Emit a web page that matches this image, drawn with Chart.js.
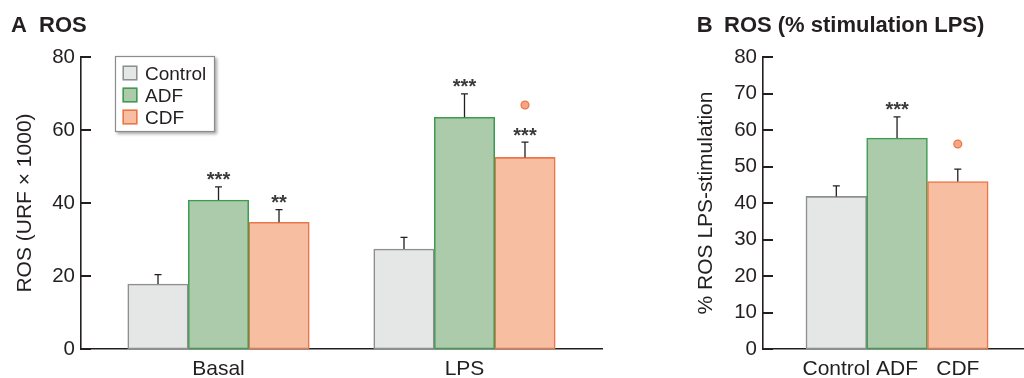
<!DOCTYPE html>
<html>
<head>
<meta charset="utf-8">
<title>ROS</title>
<script src="https://cdn.jsdelivr.net/npm/chart.js@4/dist/chart.umd.min.js"></script>
<style>
  html, body { margin: 0; padding: 0; background: #ffffff; }
  #wrap { position: relative; width: 1024px; height: 378px; overflow: hidden; }
  #boxA { position: absolute; left: 0; top: 0; width: 680px; height: 378px; }
  #boxB { position: absolute; left: 680px; top: 0; width: 344px; height: 378px; }
</style>
</head>
<body>
<div id="wrap">
  <div id="boxA"><canvas id="chartA"></canvas></div>
  <div id="boxB"><canvas id="chartB"></canvas></div>
</div>
<script>
// ---- Panel A: ROS (URF x 1000), basal vs LPS ----
const conditions = ['Basal', 'LPS'];
const groups = ['Control', 'ADF', 'CDF'];

const controlRos    = [17.8, 27.4];
const controlRosSem = [2.6, 3.2];
const adfRos        = [40.8, 63.5];
const adfRosSem     = [3.6, 6.4];
const cdfRos        = [34.7, 52.5];
const cdfRosSem     = [3.5, 4.2];

const controlStars = ['', ''];
const adfStars     = ['***', '***'];
const cdfStars     = ['**', '***'];
const cdfCircle    = [false, true];

const rosTicks = [0, 20, 40, 60, 80];

// ---- Panel B: % ROS LPS-stimulation ----
const stimValues = [41.8, 57.8, 45.9];
const stimSem    = [2.9, 5.8, 3.4];
const stimStars  = ['', '***', ''];
const stimCircle = [false, false, true];

const stimTicks = [0, 10, 20, 30, 40, 50, 60, 70, 80];

// ---- styling ----
const INK = '#231f20';
const FAMILY = "'Liberation Sans', Arial, Helvetica, sans-serif";
const FILL = { Control: '#e5e7e6', ADF: '#accbaa', CDF: '#f7bea2' };
const EDGE = { Control: '#8e8f8f', ADF: '#3f9b52', CDF: '#ec7648' };

Chart.defaults.font.family = FAMILY;
Chart.defaults.color = INK;

// error bars, significance stars and circle markers above each bar
const barExtras = {
  id: 'barExtras',
  afterDatasetsDraw(chart) {
    const ctx = chart.ctx;
    const y = chart.scales.y;
    chart.data.datasets.forEach((ds, di) => {
      const meta = chart.getDatasetMeta(di);
      meta.data.forEach((bar, i) => {
        const v = ds.data[i];
        const top = y.getPixelForValue(v + ds.sem[i]);
        ctx.save();
        ctx.strokeStyle = INK;
        ctx.lineWidth = 1.3;
        ctx.beginPath();
        ctx.moveTo(bar.x, bar.y);
        ctx.lineTo(bar.x, top);
        ctx.moveTo(bar.x - 3.5, top);
        ctx.lineTo(bar.x + 3.5, top);
        ctx.stroke();
        let mark = top;
        if (ds.stars && ds.stars[i]) {
          ctx.fillStyle = '#3a3a3a';
          ctx.font = 'bold 20px ' + FAMILY;
          ctx.textAlign = 'center';
          ctx.textBaseline = 'alphabetic';
          ctx.fillText(ds.stars[i], bar.x, top - 0.5);
          mark = top - 12;
        }
        if (ds.circle && ds.circle[i]) {
          ctx.beginPath();
          ctx.arc(bar.x, mark - 25, 3.9, 0, Math.PI * 2);
          ctx.fillStyle = '#f7a585';
          ctx.fill();
          ctx.lineWidth = 1.3;
          ctx.strokeStyle = '#ec7648';
          ctx.stroke();
        }
        ctx.restore();
      });
    });
  }
};

// short tick marks pointing into the plot from the y axis
const inwardTicks = {
  id: 'inwardTicks',
  afterDraw(chart) {
    const ctx = chart.ctx;
    const y = chart.scales.y;
    const left = chart.chartArea.left;
    ctx.save();
    ctx.strokeStyle = INK;
    ctx.lineWidth = 2;
    y.ticks.forEach(t => {
      const p = Math.round(y.getPixelForValue(t.value));
      ctx.beginPath();
      ctx.moveTo(left, p);
      ctx.lineTo(left + 10, p);
      ctx.stroke();
    });
    ctx.restore();
  }
};

// bold panel letter and heading
const panelTitle = {
  id: 'panelTitle',
  afterDraw(chart, args, opts) {
    const ctx = chart.ctx;
    ctx.save();
    ctx.fillStyle = INK;
    ctx.font = 'bold 22px ' + FAMILY;
    ctx.textAlign = 'left';
    ctx.textBaseline = 'alphabetic';
    ctx.fillText(opts.letter, opts.letterX, 32);
    ctx.fillText(opts.text, opts.textX, 32);
    ctx.restore();
  }
};

// boxed legend with drop shadow
const boxLegend = {
  id: 'boxLegend',
  afterDraw(chart, args, opts) {
    if (!opts.show) return;
    const ctx = chart.ctx;
    const x = opts.x, y = opts.y, w = opts.w, h = opts.h;
    ctx.save();
    ctx.shadowColor = 'rgba(0,0,0,0.35)';
    ctx.shadowOffsetX = 2;
    ctx.shadowOffsetY = 2;
    ctx.shadowBlur = 3;
    ctx.fillStyle = '#ffffff';
    ctx.fillRect(x, y, w, h);
    ctx.restore();
    ctx.save();
    ctx.strokeStyle = '#8c8c8c';
    ctx.lineWidth = 1.2;
    ctx.strokeRect(x + 0.5, y + 0.5, w - 1, h - 1);
    chart.data.datasets.forEach((ds, i) => {
      const cy = y + 17 + i * 22;
      ctx.fillStyle = ds.backgroundColor;
      ctx.fillRect(x + 7.5, cy - 7.5, 15, 15);
      ctx.strokeStyle = ds.borderColor;
      ctx.lineWidth = 1.5;
      ctx.strokeRect(x + 8.25, cy - 6.75, 13.5, 13.5);
      ctx.fillStyle = INK;
      ctx.font = '19px ' + FAMILY;
      ctx.textAlign = 'left';
      ctx.textBaseline = 'alphabetic';
      ctx.fillText(ds.label, x + 30, cy + 6.6);
    });
    ctx.restore();
  }
};

function yAxis(ticks, width, title, titlePad) {
  return {
    type: 'linear',
    min: 0,
    max: ticks[ticks.length - 1],
    afterBuildTicks: s => { s.ticks = ticks.map(v => ({ value: v })); },
    afterFit: s => { s.width = width; },
    grid: { display: false, drawTicks: false },
    border: { display: true, color: INK, width: 1.6 },
    ticks: { color: INK, font: { size: 20.5, family: FAMILY }, padding: 6 },
    title: { display: true, text: title, color: INK, font: { size: 21, family: FAMILY }, padding: { top: titlePad, bottom: 0 } }
  };
}

function xAxis(labels, min, max) {
  return {
    type: 'linear',
    offset: false,
    min: min,
    max: max,
    afterBuildTicks: s => { s.ticks = labels.map((l, i) => ({ value: i })); },
    afterFit: s => { s.height = 29; },
    grid: { display: false, drawTicks: false },
    border: { display: true, color: INK, width: 1.6 },
    ticks: {
      callback: v => labels[v],
      color: INK,
      font: { size: 21, family: FAMILY },
      padding: 8,
      maxRotation: 0,
      autoSkip: false
    }
  };
}

function series(name, values, sem, stars, circle) {
  return {
    label: name,
    data: values,
    sem: sem,
    stars: stars,
    circle: circle,
    backgroundColor: FILL[name],
    borderColor: EDGE[name],
    borderWidth: 1.6,
    borderSkipped: false,
    barThickness: 60.5
  };
}

new Chart(document.getElementById('chartA'), {
  type: 'bar',
  data: {
    labels: conditions.map((c, i) => i),
    datasets: [
      series('Control', controlRos, controlRosSem, controlStars, null),
      series('ADF', adfRos, adfRosSem, adfStars, null),
      series('CDF', cdfRos, cdfRosSem, cdfStars, cdfCircle)
    ]
  },
  options: {
    responsive: true,
    maintainAspectRatio: false,
    animation: false,
    layout: { padding: { left: 0, right: 78, top: 57, bottom: 0 } },
    scales: {
      x: xAxis(conditions, -0.559, 1.559),
      y: yAxis(rosTicks, 81, 'ROS (URF × 1000)', 12.4)
    },
    plugins: {
      legend: { display: false },
      tooltip: { enabled: false },
      panelTitle: { letter: 'A', letterX: 11, text: 'ROS', textX: 39 },
      boxLegend: { show: true, x: 115, y: 56, w: 100, h: 76 }
    }
  },
  plugins: [barExtras, inwardTicks, panelTitle, boxLegend]
});

new Chart(document.getElementById('chartB'), {
  type: 'bar',
  data: {
    labels: groups.map((g, i) => i),
    datasets: [{
      label: '% ROS LPS-stimulation',
      data: stimValues,
      sem: stimSem,
      stars: stimStars,
      circle: stimCircle,
      backgroundColor: groups.map(g => FILL[g]),
      borderColor: groups.map(g => EDGE[g]),
      borderWidth: 1.6,
      borderSkipped: false,
      barThickness: 60.75
    }]
  },
  options: {
    responsive: true,
    maintainAspectRatio: false,
    animation: false,
    layout: { padding: { left: 0, right: 0, top: 57, bottom: 0 } },
    scales: {
      x: xAxis(groups, -1.207, 3.09),
      y: yAxis(stimTicks, 83, '% ROS LPS-stimulation', 14)
    },
    plugins: {
      legend: { display: false },
      tooltip: { enabled: false },
      panelTitle: { letter: 'B', letterX: 16.7, text: 'ROS (% stimulation LPS)', textX: 44 },
      boxLegend: { show: false }
    }
  },
  plugins: [barExtras, inwardTicks, panelTitle, boxLegend]
});
</script>
</body>
</html>
